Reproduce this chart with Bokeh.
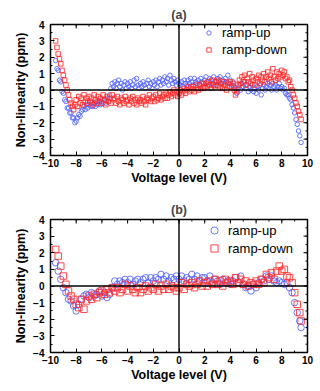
import math
from bokeh.plotting import figure
from bokeh.models import Range1d, Span, FixedTicker, Legend, LegendItem
from bokeh.layouts import column
from bokeh.embed import file_html
from bokeh.resources import INLINE

# ---------------- data ----------------
x_ticks = [-10, -8, -6, -4, -2, 0, 2, 4, 6, 8, 10]
x_minor = [-10, -9, -8, -7, -6, -5, -4, -3, -2, -1, 0, 1, 2, 3, 4, 5, 6, 7, 8, 9, 10]
y_ticks = [-4, -3, -2, -1, 0, 1, 2, 3, 4]
y_minor = [-4, -3.5, -3, -2.5, -2, -1.5, -1, -0.5, 0, 0.5, 1, 1.5, 2, 2.5, 3, 3.5, 4]

# panel (a): voltage grid
x_a = [-9.6, -9.5, -9.4, -9.3, -9.2, -9.1,
       -9.0, -8.9, -8.8, -8.7, -8.6, -8.5, -8.4, -8.3, -8.2, -8.1,
       -8.0, -7.9, -7.8, -7.7, -7.6, -7.5, -7.4, -7.3, -7.2, -7.1,
       -7.0, -6.9, -6.8, -6.7, -6.6, -6.5, -6.4, -6.3, -6.2, -6.1,
       -6.0, -5.9, -5.8, -5.7, -5.6, -5.5, -5.4, -5.3, -5.2, -5.1,
       -5.0, -4.9, -4.8, -4.7, -4.6, -4.5, -4.4, -4.3, -4.2, -4.1,
       -4.0, -3.9, -3.8, -3.7, -3.6, -3.5, -3.4, -3.3, -3.2, -3.1,
       -3.0, -2.9, -2.8, -2.7, -2.6, -2.5, -2.4, -2.3, -2.2, -2.1,
       -2.0, -1.9, -1.8, -1.7, -1.6, -1.5, -1.4, -1.3, -1.2, -1.1,
       -1.0, -0.9, -0.8, -0.7, -0.6, -0.5, -0.4, -0.3, -0.2, -0.1,
       0.0, 0.1, 0.2, 0.3, 0.4, 0.5, 0.6, 0.7, 0.8, 0.9,
       1.0, 1.1, 1.2, 1.3, 1.4, 1.5, 1.6, 1.7, 1.8, 1.9,
       2.0, 2.1, 2.2, 2.3, 2.4, 2.5, 2.6, 2.7, 2.8, 2.9,
       3.0, 3.1, 3.2, 3.3, 3.4, 3.5, 3.6, 3.7, 3.8, 3.9,
       4.0, 4.1, 4.2, 4.3, 4.4, 4.5, 4.6, 4.7, 4.8, 4.9,
       5.0, 5.1, 5.2, 5.3, 5.4, 5.5, 5.6, 5.7, 5.8, 5.9,
       6.0, 6.1, 6.2, 6.3, 6.4, 6.5, 6.6, 6.7, 6.8, 6.9,
       7.0, 7.1, 7.2, 7.3, 7.4, 7.5, 7.6, 7.7, 7.8, 7.9,
       8.0, 8.1, 8.2, 8.3, 8.4, 8.5, 8.6, 8.7, 8.8, 8.9,
       9.0, 9.1, 9.2, 9.3, 9.4, 9.5]

up_a = [1.8, 1.3, 1.2, 0.6, 0.5, -0.1,
        -0.2, -0.6, -0.7, -1.1, -1.1, -1.4, -1.4, -1.7, -1.7, -2.0,
        -1.9, -1.7, -1.5, -1.6, -1.3, -1.2, -1.0, -1.2, -0.9, -1.1,
        -0.9, -1.0, -0.8, -1.0, -0.8, -1.0, -0.7, -0.9, -0.7, -0.9,
        -0.6, -0.8, -0.6, -0.8, -0.5, -0.7, -0.3, 0.1, 0.4, 0.2,
        0.5, 0.1, 0.4, 0.6, 0.2, 0.4, 0.0, 0.3, 0.5, 0.1,
        0.4, 0.2, 0.5, 0.1, 0.3, 0.6, 0.2, 0.7, 0.3, 0.1,
        0.4, 0.2, 0.5, 0.3, 0.1, 0.4, 0.6, 0.2, 0.4, 0.1,
        0.5, 0.3, 0.6, 0.2, 0.5, 0.7, 0.3, 0.6, 0.4, 0.8,
        0.5, 0.7, 0.3, 0.9, 0.6, 0.4, 0.7, 0.5, 0.3, 0.6,
        0.4, 0.3, 0.5, 0.2, 0.6, 0.4, 0.3, 0.6, 0.4, 0.7,
        0.5, 0.3, 0.7, 0.5, 0.4, 0.6, 0.3, 0.7, 0.5, 0.4,
        0.6, 0.8, 0.5, 0.3, 0.7, 0.6, 0.4, 0.8, 0.5, 0.3,
        0.7, 0.5, 0.8, 0.4, 0.6, 0.3, 0.7, 0.5, 0.9, 0.4,
        0.6, 0.3, 0.5, 0.2, 0.1, -0.2, 0.1, 0.3, 0.0, 0.4,
        0.2, 0.5, 0.1, 0.3, -0.1, 0.2, 0.0, 0.3, -0.1, 0.1,
        -0.2, 0.2, 0.0, 0.3, -0.3, 0.1, 0.3, 0.0, 0.2, 0.4,
        0.1, 0.3, 0.0, 0.4, 0.2, 0.3, 0.0, 0.2, 0.4, 0.1,
        0.2, 0.0, 0.1, -0.2, -0.3, -0.3, -0.5, -0.6, -0.9, -1.1,
        -1.4, -1.8, -2.1, -2.5, -2.8, -3.2]

down_a = [3.0, 2.6, 2.2, 1.9, 1.6, 1.2,
          0.9, 0.6, 0.3, 0.0, -0.3, -0.6, -0.8, -1.0, -1.2, -0.9,
          -0.6, -1.0, -0.4, -0.8, -0.5, -0.9, -0.3, -0.7, -0.5, -0.8,
          -0.4, -0.7, -0.5, -0.9, -0.3, -0.6, -0.8, -0.4, -0.7, -0.5,
          -0.8, -0.3, -0.6, -0.9, -0.4, -0.7, -0.5, -0.8, -0.3, -0.6,
          -0.5, -0.8, -0.4, -0.7, -0.9, -0.5, -0.6, -0.8, -0.4, -0.7,
          -0.6, -0.9, -0.5, -0.7, -0.4, -0.8, -0.6, -0.9, -0.5, -0.7,
          -0.6, -0.8, -0.4, -0.7, -0.9, -0.5, -0.6, -0.3, -0.7, -0.5,
          -0.4, -0.7, -0.3, -0.6, -0.5, -0.2, -0.6, -0.4, -0.3, -0.5,
          -0.2, -0.5, -0.3, -0.1, -0.4, -0.2, 0.0, -0.3, -0.1, -0.4,
          -0.2, 0.0, -0.3, -0.1, 0.1, -0.2, 0.0, 0.2, -0.1, 0.1,
          0.0, 0.2, -0.1, 0.3, 0.1, 0.0, 0.3, 0.1, 0.4, 0.2,
          0.1, 0.4, 0.2, 0.5, 0.3, 0.1, 0.6, 0.3, 0.2, 0.5,
          0.3, 0.6, 0.2, 0.4, 0.1, 0.5, 0.3, 0.0, 0.4, 0.2,
          0.5, 0.2, 0.4, 0.0, -0.3, -0.1, 0.3, 0.6, 0.4, 0.8,
          0.5, 0.9, 0.3, 0.7, 0.5, 1.0, 0.4, 0.8, 0.6, 0.3,
          0.7, 0.5, 0.9, 0.4, 0.8, 0.6, 1.0, 0.5, 0.8, 1.1,
          0.7, 0.9, 0.5, 1.3, 0.8, 0.6, 1.1, 0.7, 1.0, 0.8,
          1.2, 0.9, 1.1, 0.7, 0.8, 0.5, 0.6, 0.2, 0.0, -0.3,
          -0.5, -0.8, -1.0, -1.3, -1.5, -1.8]

# panel (b): voltage grid
x_b = [-9.6, -9.4, -9.2,
       -9.0, -8.8, -8.6, -8.4, -8.2,
       -8.0, -7.8, -7.6, -7.4, -7.2,
       -7.0, -6.8, -6.6, -6.4, -6.2,
       -6.0, -5.8, -5.6, -5.4, -5.2,
       -5.0, -4.8, -4.6, -4.4, -4.2,
       -4.0, -3.8, -3.6, -3.4, -3.2,
       -3.0, -2.8, -2.6, -2.4, -2.2,
       -2.0, -1.8, -1.6, -1.4, -1.2,
       -1.0, -0.8, -0.6, -0.4, -0.2,
       0.0, 0.2, 0.4, 0.6, 0.8,
       1.0, 1.2, 1.4, 1.6, 1.8,
       2.0, 2.2, 2.4, 2.6, 2.8,
       3.0, 3.2, 3.4, 3.6, 3.8,
       4.0, 4.2, 4.4, 4.6, 4.8,
       5.0, 5.2, 5.4, 5.6, 5.8,
       6.0, 6.2, 6.4, 6.6, 6.8,
       7.0, 7.2, 7.4, 7.6, 7.8,
       8.0, 8.2, 8.4, 8.6, 8.8,
       9.0, 9.2, 9.4, 9.5]

up_b = [1.4, 0.9, 0.4,
        -0.1, -0.4, -0.8, -0.9, -1.2,
        -1.5, -1.1, -0.8, -0.6, -0.5,
        -0.7, -0.4, -0.6, -0.5, -0.3,
        -0.6, -0.4, -0.7, -0.5, -0.1,
        0.3, 0.1, 0.3, 0.2, 0.4,
        0.2, 0.4, 0.1, 0.3, 0.4,
        0.2, 0.4, 0.5, 0.2, 0.5,
        0.3, 0.5, 0.4, 0.7, 0.4,
        0.6, 0.3, 0.5, 0.4, 0.6,
        0.4, 0.6, 0.3, 0.5, 0.4,
        0.7, 0.4, 0.6, 0.3, 0.5,
        0.5, 0.3, 0.6, 0.2, 0.4,
        0.3, 0.1, 0.4, 0.2, 0.3,
        0.1, 0.3, 0.5, 0.2, 0.6,
        0.1, -0.1, 0.0, -0.3, 0.1,
        -0.1, 0.2, 0.4, 0.3, 0.6,
        0.4, 0.6, 0.3, 0.2, 0.3,
        0.2, 0.1, 0.2, -0.1, -0.4,
        -1.0, -1.6, -2.1, -2.5]

down_b = [2.2, 1.8, 1.2,
          0.6, 0.1, -0.3, -0.6, -0.8,
          -1.1, -1.3, -0.8, -1.4, -0.9,
          -0.6, -0.8, -0.5, -0.7, -0.4,
          -0.3, -0.5, -0.2, -0.4, -0.1,
          -0.3, -0.1, -0.4, -0.2, 0.1,
          -0.3, 0.0, -0.2, -0.4, -0.1,
          -0.4, -0.2, 0.0, -0.3, -0.1,
          -0.2, 0.1, -0.3, 0.0, -0.2,
          0.1, -0.2, 0.0, -0.1, -0.3,
          -0.1, 0.2, -0.2, 0.1, 0.0,
          0.2, -0.1, 0.1, 0.3, 0.0,
          0.2, 0.0, 0.3, 0.1, 0.4,
          0.1, 0.3, 0.0, 0.4, 0.2,
          0.3, 0.1, 0.5, 0.2, 0.4,
          0.1, 0.3, 0.0, 0.2, 0.1,
          0.3, 0.1, 0.4, 0.2, 0.7,
          0.5, 0.8, 0.4, 0.9, 1.2,
          0.9, 1.0, 0.6, 0.5, 0.2,
          -0.4, -1.1, -1.6, -2.1]

BLUE = "#4f60ff"
RED = "#ff2a2a"
FONT = "Liberation Sans"


def make_panel(title, xs, ups, downs, frame_h, top_border, bottom_border, msize,
               glyph, spacing, leg_loc, standoff):
    p = figure(frame_width=257, frame_height=frame_h, output_backend="svg", toolbar_location=None,
               x_range=Range1d(x_ticks[0], x_ticks[-1]), y_range=Range1d(y_ticks[0], y_ticks[-1]),
               min_border_left=50, min_border_right=13,
               min_border_top=top_border, min_border_bottom=bottom_border)
    p.title.text = title
    p.title.align = "center"
    p.title.text_font = FONT
    p.title.text_font_style = "bold"
    p.title.text_font_size = "12.5px"
    p.title.offset = 0
    p.title.standoff = 5
    p.grid.visible = False
    p.outline_line_color = "black"
    p.outline_line_width = 1.5
    p.outline_line_alpha = 1
    p.background_fill_color = "white"

    p.add_layout(Span(location=0, dimension="width", line_color="black", line_width=1.4))
    p.add_layout(Span(location=0, dimension="height", line_color="black", line_width=1.4))

    r1 = p.scatter(xs, ups, marker="circle", size=msize, fill_color=None,
                   line_color=BLUE, line_width=1, line_alpha=0.85)
    r2 = p.scatter(xs, downs, marker="square", size=msize, fill_color=None,
                   line_color=RED, line_width=1, line_alpha=0.85)

    # inward tick marks on the top and right edges of the frame
    p.scatter(x_ticks, [y_ticks[-1]] * len(x_ticks), marker="dash", angle=math.pi / 2,
              size=8, line_color="black", line_width=1)
    p.scatter(x_minor, [y_ticks[-1]] * len(x_minor), marker="dash", angle=math.pi / 2,
              size=4, line_color="black", line_width=1)
    p.scatter([x_ticks[-1]] * len(y_ticks), y_ticks, marker="dash",
              size=8, line_color="black", line_width=1)
    p.scatter([x_ticks[-1]] * len(y_minor), y_minor, marker="dash",
              size=4, line_color="black", line_width=1)

    for ax in (p.xaxis[0], p.yaxis[0]):
        ax.axis_line_color = None
        ax.major_tick_in = 4
        ax.major_tick_out = 0
        ax.minor_tick_in = 2
        ax.minor_tick_out = 0
        ax.major_tick_line_width = 1
        ax.major_label_text_font = FONT
        ax.major_label_text_font_style = "bold"
        ax.major_label_text_font_size = "10px"
        ax.major_label_text_color = "black"
        ax.axis_label_text_font = FONT
        ax.axis_label_text_font_style = "bold"
        ax.axis_label_text_font_size = "12.5px"
        ax.axis_label_text_color = "black"
    p.xaxis[0].ticker = FixedTicker(ticks=x_ticks, minor_ticks=x_minor)
    p.yaxis[0].ticker = FixedTicker(ticks=y_ticks, minor_ticks=y_minor)
    p.xaxis[0].axis_label = "Voltage level (V)"
    p.yaxis[0].axis_label = "Non-linearity (ppm)"
    p.xaxis[0].major_label_standoff = 3
    p.xaxis[0].axis_label_standoff = 1
    p.yaxis[0].major_label_standoff = 6
    p.yaxis[0].axis_label_standoff = 2

    legend = Legend(items=[LegendItem(label="ramp-up", renderers=[r1]),
                           LegendItem(label="ramp-down", renderers=[r2])],
                    location=leg_loc)
    legend.border_line_color = None
    legend.background_fill_alpha = 0
    legend.label_text_font = FONT
    legend.label_text_font_size = "13px"
    legend.label_text_color = "black"
    legend.glyph_width = glyph
    legend.glyph_height = glyph
    legend.label_height = 15
    legend.spacing = spacing
    legend.padding = 0
    legend.margin = 0
    legend.label_standoff = standoff
    p.add_layout(legend, "center")
    return p


pa = make_panel("(a)", x_a, up_a, down_a, 131, 24, 40, 4.5, 11, 2, (153, 98), 8)
pb = make_panel("(b)", x_b, up_b, down_b, 133, 24, 39, 6.5, 18, -2, (155, 95), 5)

layout = column(pa, pb, spacing=0)
open("out.html", "w").write(file_html(layout, INLINE))
